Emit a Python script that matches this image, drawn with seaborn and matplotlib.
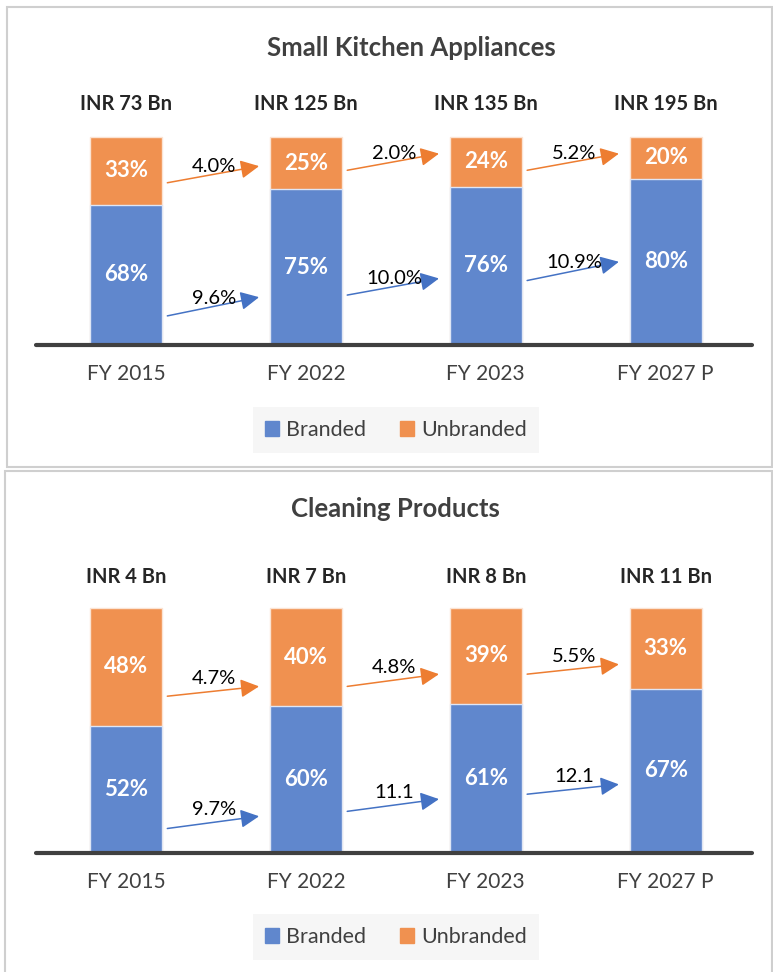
import pandas as pd
import seaborn as sns
import matplotlib.pyplot as plt
from matplotlib.patches import Rectangle, Patch

# Data
years = ['FY 2015', 'FY 2022', 'FY 2023', 'FY 2027 P']

ska_size = ['INR 73 Bn', 'INR 125 Bn', 'INR 135 Bn', 'INR 195 Bn']
ska_branded = [68, 75, 76, 80]
ska_unbranded = [33, 25, 24, 20]
ska_cagr_branded = ['9.6%', '10.0%', '10.9%']
ska_cagr_unbranded = ['4.0%', '2.0%', '5.2%']

cp_size = ['INR 4 Bn', 'INR 7 Bn', 'INR 8 Bn', 'INR 11 Bn']
cp_branded = [52, 60, 61, 67]
cp_unbranded = [48, 40, 39, 33]
cp_cagr_branded = ['9.7%', '11.1', '12.1']
cp_cagr_unbranded = ['4.7%', '4.8%', '5.5%']

# Layout: where the growth arrows sit (start, end) in axis units
ska_arrow_y = {'b': [(14, 23), (24, 32), (31, 40)], 'u': [(78, 86), (84, 92), (84, 92)]}
cp_arrow_y = {'b': [(10, 15), (17, 22), (24, 28)], 'u': [(64, 68), (68, 73), (73, 77)]}

BLUE = '#6087cd'
ORANGE = '#f09150'
BLUE_ARR = '#4472c4'
ORANGE_ARR = '#ed7d31'
GREY = '#404040'

sns.set_style('white')
plt.rcParams['font.family'] = ['Lato', 'DejaVu Sans']

W, H = 773, 972
fig = plt.figure(figsize=(W / 100, H / 100), dpi=100)


def fx(x):
    return x / W


def fy(y):
    return 1 - y / H


def draw_panel(top, base, title, title_xy, sizes, branded, unbranded, cagr_b, cagr_u,
               arrow_y, label_off, size_off, legend_y):
    ax = fig.add_axes([fx(36), fy(base), fx(752) - fx(36), (base - top) / H])
    share = [100 * b / (b + u) for b, u in zip(branded, unbranded)]
    df = pd.DataFrame({'year': years, 'total': [100.0] * len(years), 'branded': share})

    sns.barplot(data=df, x='year', y='total', color=ORANGE, width=0.4, saturation=1,
                edgecolor='#fbe3d3', linewidth=1, ax=ax)
    sns.barplot(data=df, x='year', y='branded', color=BLUE, width=0.4, saturation=1,
                edgecolor='#dfe6f5', linewidth=1, ax=ax)
    for p in ax.patches:
        p.set_clip_on(False)

    ax.set_xlim(-0.5, 3.48)
    ax.set_ylim(0, 100)
    sns.despine(ax=ax, left=True, bottom=True)
    ax.set_yticks([])
    ax.set_xlabel('')
    ax.set_ylabel('')
    ax.tick_params(axis='x', length=0, pad=14, labelsize=15, labelcolor=GREY)
    ax.axhline(0, color=GREY, lw=3, clip_on=False, zorder=5)

    # segment labels
    for i in range(len(years)):
        ax.text(i, share[i] / 2, f'{branded[i]}%', ha='center', va='center',
                color='white', fontweight='bold', fontsize=16)
        ax.text(i, share[i] + (100 - share[i]) / 2, f'{unbranded[i]}%', ha='center',
                va='center', color='white', fontweight='bold', fontsize=16)
        ax.annotate(sizes[i], xy=(i, 100), xytext=(0, size_off), textcoords='offset points',
                    ha='center', va='center', fontweight='bold', fontsize=14.5)

    # growth arrows
    for key, col, labels in [('u', ORANGE_ARR, cagr_u), ('b', BLUE_ARR, cagr_b)]:
        for i in range(len(years) - 1):
            y0, y1 = arrow_y[key][i]
            ax.annotate('', xy=(i + 0.74, y1), xytext=(i + 0.23, y0),
                        arrowprops=dict(arrowstyle='-|>,head_length=0.7,head_width=0.35',
                                        color=col, lw=1.1, mutation_scale=16,
                                        shrinkA=0, shrinkB=0))
            ax.annotate(labels[i], xy=(i + 0.49, (y0 + y1) / 2), xytext=(0, label_off),
                        textcoords='offset points', ha='center', va='center',
                        fontsize=14.5, color='black')

    fig.text(fx(title_xy[0]), fy(title_xy[1]), title, ha='center', va='center',
             fontsize=18.5, fontweight='bold', color=GREY)

    handles = [Patch(color=BLUE, label='Branded'), Patch(color=ORANGE, label='Unbranded')]
    fig.legend(handles=handles, loc='center', bbox_to_anchor=(fx(396), fy(legend_y)),
               ncol=2, frameon=True, facecolor='#f4f4f4', edgecolor='none', fancybox=False,
               fontsize=15.5, labelcolor=GREY, handlelength=0.65, handleheight=0.65,
               handletextpad=0.3, columnspacing=1.6, borderpad=0.6, borderaxespad=0)
    return ax


draw_panel(137, 345, 'Small Kitchen Appliances', (411, 48), ska_size, ska_branded,
           ska_unbranded, ska_cagr_branded, ska_cagr_unbranded, ska_arrow_y, 6, 24, 430)
draw_panel(608, 853, 'Cleaning Products', (395, 509), cp_size, cp_branded,
           cp_unbranded, cp_cagr_branded, cp_cagr_unbranded, cp_arrow_y, 9, 22, 937)

# panel frames
fig.add_artist(Rectangle((fx(7), fy(467)), fx(772) - fx(7), (467 - 7) / H,
                         transform=fig.transFigure, fill=False, edgecolor='#cfcfcf', lw=1.5))
fig.add_artist(Rectangle((fx(5), fy(980)), fx(772) - fx(5), (980 - 471) / H,
                         transform=fig.transFigure, fill=False, edgecolor='#cfcfcf', lw=1.5))

fig.savefig('out.png', dpi=100)
